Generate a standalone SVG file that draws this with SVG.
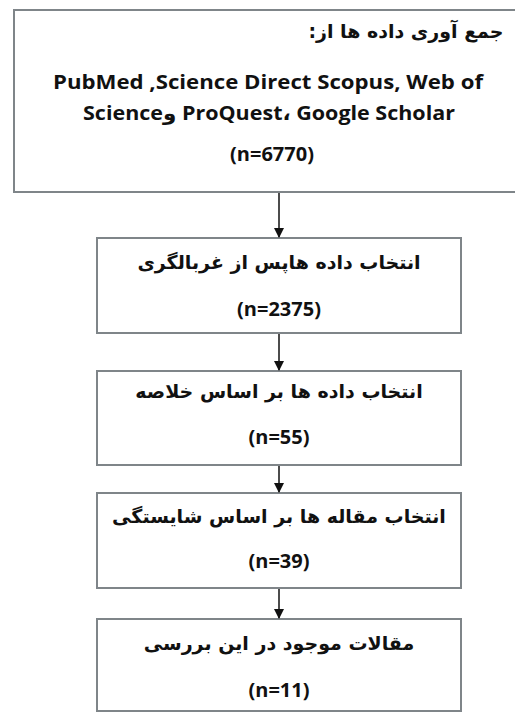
<svg xmlns="http://www.w3.org/2000/svg" width="515" height="716" viewBox="0 0 515 716">
<defs>
<style>
.box{fill:#ffffff;stroke:#7f8589;stroke-width:2}
.fa{font-family:"DejaVu Sans",sans-serif;font-weight:bold;font-size:19px;fill:#111;text-anchor:middle;direction:rtl;unicode-bidi:embed}
.en{font-family:"Open Sans","DejaVu Sans",sans-serif;font-weight:bold;font-size:20px;fill:#111;text-anchor:middle}
.conn{stroke:#111;stroke-width:1.5;fill:none}
</style>
<marker id="ah" markerWidth="10" markerHeight="10" refX="9" refY="5" orient="auto" markerUnits="userSpaceOnUse">
<path d="M0,0 L10,5 L0,10 Z" fill="#111"/>
</marker>
</defs>
<rect width="515" height="716" fill="#ffffff"/>
<g id="n1">
<rect class="box" x="14" y="10" width="510" height="182"/>
<text class="fa" x="406" y="38" font-size="18">جمع آوری داده ها از:&#x200F;</text>
<text class="en" x="268" y="89" textLength="430" lengthAdjust="spacingAndGlyphs">PubMed ,Science Direct Scopus, Web of</text>
<text class="en" x="269" y="120" textLength="372" lengthAdjust="spacingAndGlyphs">Scienceو ProQuest، Google Scholar</text>
<text class="en" x="272" y="161">(n=6770)</text>
</g>
<g id="n2">
<rect class="box" x="97" y="238" width="364" height="95"/>
<text class="fa" x="279" y="269">انتخاب داده هاپس از غربالگری</text>
<text class="en" x="279" y="316">(n=2375)</text>
</g>
<g id="n3">
<rect class="box" x="97" y="371" width="364" height="94"/>
<text class="fa" x="279" y="398">انتخاب داده ها بر اساس خلاصه</text>
<text class="en" x="279" y="444">(n=55)</text>
</g>
<g id="n4">
<rect class="box" x="97" y="493" width="364" height="95"/>
<text class="fa" x="279" y="523">انتخاب مقاله ها بر اساس شایستگی</text>
<text class="en" x="279" y="568">(n=39)</text>
</g>
<g id="n5">
<rect class="box" x="97" y="619" width="364" height="92"/>
<text class="fa" x="279" y="650">مقالات موجود در این بررسی</text>
<text class="en" x="279" y="697">(n=11)</text>
</g>
<g id="connectors">
<line class="conn" x1="279" y1="193" x2="279" y2="237" marker-end="url(#ah)"/>
<line class="conn" x1="279" y1="334" x2="279" y2="370" marker-end="url(#ah)"/>
<line class="conn" x1="279" y1="466" x2="279" y2="492" marker-end="url(#ah)"/>
<line class="conn" x1="279" y1="589" x2="279" y2="618" marker-end="url(#ah)"/>
</g>
</svg>
